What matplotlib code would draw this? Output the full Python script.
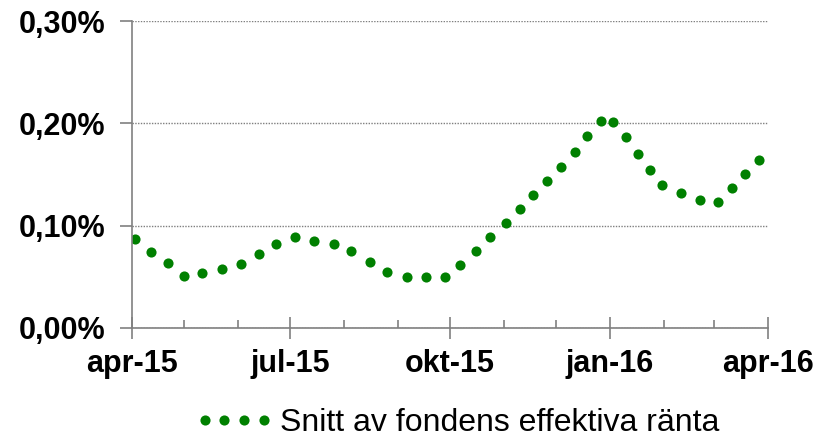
import numpy as np
import pandas as pd
import matplotlib
matplotlib.use("Agg")
import matplotlib.pyplot as plt
import matplotlib.dates as mdates
from matplotlib.ticker import FuncFormatter

# data (values in percent)
dates = ["2015-04-03", "2015-04-12", "2015-04-22", "2015-05-01", "2015-05-11",
         "2015-05-23", "2015-06-03", "2015-06-13", "2015-06-23", "2015-07-04",
         "2015-07-15", "2015-07-26", "2015-08-05", "2015-08-16", "2015-08-26",
         "2015-09-06", "2015-09-17", "2015-09-28", "2015-10-07", "2015-10-16",
         "2015-10-24", "2015-11-02", "2015-11-10", "2015-11-18", "2015-11-26",
         "2015-12-04", "2015-12-12", "2015-12-19", "2015-12-27", "2016-01-03",
         "2016-01-10", "2016-01-17", "2016-01-24", "2016-01-31", "2016-02-11",
         "2016-02-22", "2016-03-03", "2016-03-11", "2016-03-19", "2016-03-27"]
rate = [0.0867, 0.0746, 0.0632, 0.0508, 0.0538, 0.0573, 0.0626, 0.0723, 0.0821, 0.0893,
        0.0854, 0.0818, 0.0750, 0.0648, 0.0551, 0.0499, 0.0499, 0.0500, 0.0618, 0.0753,
        0.0890, 0.1026, 0.1163, 0.1300, 0.1437, 0.1577, 0.1723, 0.1877, 0.2020, 0.2017,
        0.1862, 0.1704, 0.1544, 0.1395, 0.1323, 0.1251, 0.1232, 0.1369, 0.1505, 0.1639]
series_name = "Snitt av fondens effektiva ränta"

major_ticks = ["2015-04-01", "2015-07-01", "2015-10-01", "2016-01-01", "2016-04-01"]
major_labels = ["apr-15", "jul-15", "okt-15", "jan-16", "apr-16"]
y_ticks = [0.0, 0.10, 0.20, 0.30]

plt.rcParams["font.family"] = ["Liberation Sans", "DejaVu Sans"]

x = pd.to_datetime(dates)
green = "#008000"
grey = "#808080"

fig = plt.figure(figsize=(8.18, 4.37), dpi=100)
ax = fig.add_axes([132 / 818, 1 - 328 / 437, 636 / 818, 307 / 437])

ax.plot(x, rate, linestyle="none", marker="o", markersize=7.3,
        color=green, markeredgewidth=0, label=series_name)

ax.set_xlim(pd.Timestamp("2015-04-01"), pd.Timestamp("2016-04-01"))
ax.set_ylim(0, 0.30)

# x axis: quarter labels, monthly minor ticks inside
ax.set_xticks(pd.to_datetime(major_ticks))
ax.set_xticklabels(major_labels, fontsize=22, fontweight="bold")
ax.xaxis.set_minor_locator(mdates.MonthLocator())
ax.tick_params(axis="x", which="major", direction="inout", length=16,
               width=1.2, color=grey, pad=7)
ax.tick_params(axis="x", which="minor", direction="in", length=6,
               width=1.2, color=grey)

ax.set_yticks(y_ticks)
ax.yaxis.set_major_formatter(FuncFormatter(lambda v, p: f"{v:.2f}%".replace(".", ",")))
for lab in ax.get_yticklabels():
    lab.set_fontsize(22)
    lab.set_fontweight("bold")
ax.tick_params(axis="y", direction="out", length=9, width=1.2, color=grey, pad=10)

ax.grid(axis="y", linestyle=(0, (1, 1)), color="#7f7f7f", linewidth=1)
ax.set_axisbelow(True)

for side in ["top", "right"]:
    ax.spines[side].set_visible(False)
for side in ["left", "bottom"]:
    ax.spines[side].set_color(grey)
    ax.spines[side].set_linewidth(1.2)

fig.legend(loc="center", bbox_to_anchor=(457 / 818, 1 - 423 / 437),
           frameon=False, numpoints=4, handlelength=2.45, handletextpad=0.2,
           borderpad=0, prop={"size": 23})

fig.savefig("out.png", dpi=100)
